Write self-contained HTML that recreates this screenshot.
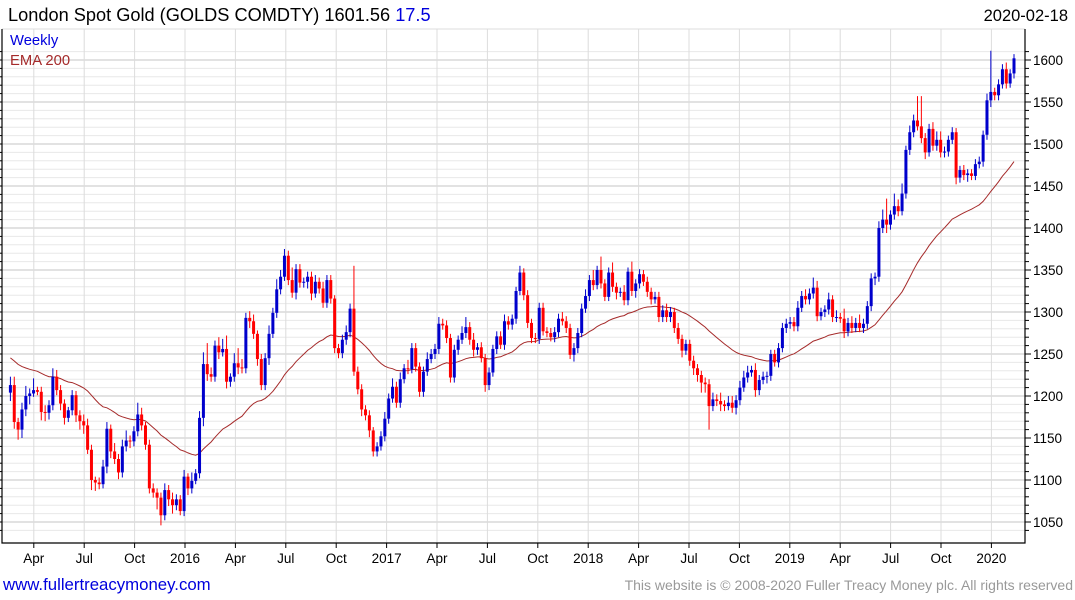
<!DOCTYPE html>
<html><head><meta charset="utf-8"><style>
html,body{margin:0;padding:0;background:#fff;}
svg{display:block;font-family:"Liberation Sans",sans-serif;}
</style></head><body>
<svg id="chart" width="1075" height="600" viewBox="0 0 1075 600">
<text x="8" y="21" font-size="18.2" fill="#000">London Spot Gold (GOLDS COMDTY) 1601.56 <tspan fill="#0000dd">17.5</tspan></text>
<text x="1068" y="21" font-size="16.5" fill="#000" text-anchor="end">2020-02-18</text>
<g id="grid"></g>
<g id="ema"></g>
<g id="candles"></g>
<g id="axes"></g>
<text x="10" y="45" font-size="14.8" fill="#0000dd">Weekly</text>
<text x="10" y="65" font-size="14.8" fill="#a52a2a">EMA 200</text>
<text x="3" y="590" font-size="16.8" fill="#0000dd">www.fullertreacymoney.com</text>
<text x="1073" y="590" font-size="14" fill="#999" text-anchor="end">This website is © 2008-2020 Fuller Treacy Money plc. All rights reserved</text>
</svg>
<script>
const firstOpen = 1204;
const closes = [
1213,1169,1160,1184,1200,1203,1207,1205,1181,1180,
1189,1223,1207,1191,1174,1183,1201,1177,1170,1165,
1136,1100,1097,1095,1116,1161,1134,1125,1109,1140,
1147,1146,1158,1178,1165,1142,1090,1085,1079,1058,
1088,1077,1070,1077,1063,1104,1090,1099,1108,1174,
1238,1226,1223,1260,1252,1256,1217,1223,1239,1234,
1233,1293,1289,1274,1244,1213,1245,1274,1299,1327,
1342,1367,1338,1323,1351,1335,1336,1342,1322,1336,
1328,1311,1338,1316,1257,1251,1267,1276,1304,1229,
1208,1184,1177,1159,1134,1140,1152,1173,1197,1211,
1192,1220,1233,1232,1257,1235,1205,1229,1244,1250,
1256,1286,1284,1269,1222,1255,1267,1275,1282,1267,
1255,1258,1245,1213,1228,1256,1271,1261,1289,1285,
1292,1325,1347,1320,1287,1269,1268,1305,1277,1275,
1270,1276,1292,1289,1281,1249,1257,1275,1304,1319,
1338,1332,1350,1334,1318,1347,1330,1323,1324,1314,
1348,1325,1334,1345,1336,1324,1315,1318,1294,1302,
1294,1300,1281,1268,1254,1262,1242,1233,1225,1216,
1214,1188,1196,1194,1190,1188,1192,1186,1195,1210,
1222,1228,1231,1207,1219,1223,1224,1250,1240,1257,
1281,1286,1288,1283,1305,1319,1315,1322,1329,1295,
1300,1303,1315,1294,1294,1292,1277,1287,1281,1287,
1281,1286,1307,1340,1342,1400,1410,1404,1416,1426,
1420,1441,1493,1514,1528,1521,1507,1490,1518,1498,
1505,1490,1491,1505,1514,1460,1469,1463,1465,1462,
1476,1479,1511,1552,1562,1558,1571,1589,1572,1584,1602];
const highWicks = [
10,10,5,8,12,6,14,4,6,8, 6,10,8,6,5,4,6,5,6,8, 8,6,4,6,8,8,5,10,6,8,
12,6,6,14,8,4,6,6,5,6, 8,6,8,6,5,8,4,10,5,8, 14,25,8,6,10,12,16,4,12,18,
10,6,8,8,4,6,6,10,6,12, 8,8,6,15,6,6,5,6,6,8, 5,8,6,6,4,5,6,8,6,51,
6,6,5,6,4,5,6,8,6,10, 6,8,5,10,6,6,5,6,8,6, 6,8,6,6,5,6,5,8,12,6,
8,5,6,5,6,5,6,6,8,6, 5,5,8,5,6,5,6,6,6,5, 6,6,6,8,6,5,6,6,6,8,
6,12,5,16,5,6,12,5,5,8, 5,12,5,6,5,6,5,6,6,6, 8,6,5,6,5,5,5,6,5,5,
6,6,8,6,10,5,8,8,6,8, 8,8,5,8,6,6,5,5,5,6, 6,6,6,6,8,6,8,6,12,8,
5,5,8,5,8,5,12,6,8,6, 10,6,6,6,5,8,12,25,5,15, 8,12,5,8,7,29,36,6,6,8,
10,10,6,5,6,5,5,6,5,5, 6,6,5,8,49,5,6,6,8,5,5];
const lowWicks = [
10,8,12,10,8,10,4,4,10,10, 8,6,6,8,8,5,6,8,10,10, 5,12,10,6,5,8,8,6,8,6,
6,8,6,6,6,6,6,6,14,12, 6,8,10,6,5,6,8,6,4,6, 10,8,6,6,8,5,8,6,6,8,
6,6,8,6,8,6,6,8,5,6, 6,5,6,6,8,6,6,8,8,5, 6,6,6,6,6,6,6,6,6,5,
6,8,6,8,6,6,5,6,6,5, 6,6,5,6,5,6,6,6,5,5, 6,6,5,6,6,6,6,5,6,6,
8,6,5,8,6,5,6,5,6,6, 6,6,5,6,6,6,5,6,5,5, 5,6,6,5,6,5,8,6,5,5,
6,6,5,6,5,5,6,8,5,6, 6,6,8,6,5,6,6,5,6,6, 6,6,6,6,8,5,6,8,8,12,
10,28,6,6,8,6,5,6,8,6, 5,6,5,8,6,5,8,6,5,6, 5,6,6,6,6,5,6,6,6,6,
5,6,6,6,6,5,8,6,6,5, 5,6,6,6,8,6,6,10,6,6, 6,5,6,6,6,5,6,8,5,6,
6,6,6,6,5,8,6,6,8,5, 5,5,6,6,8,6,6,5,6,5,6];
const emaSeed = 1247;
const emaPeriod = 40;
const priceTicks = [1050,1100,1150,1200,1250,1300,1350,1400,1450,1500,1550,1600];
const timeLabels = ["Apr","Jul","Oct","2016","Apr","Jul","Oct","2017","Apr","Jul","Oct","2018","Apr","Jul","Oct","2019","Apr","Jul","Oct","2020"];
const timeLabelYears = [2015.25,2015.5,2015.75,2016,2016.25,2016.5,2016.75,2017,2017.25,2017.5,2017.75,2018,2018.25,2018.5,2018.75,2019,2019.25,2019.5,2019.75,2020];

const NS = "http://www.w3.org/2000/svg";
const L = 2, R = 1025, T = 29, B = 543;
function yScale(v){ return 60 + (1600 - v) * 0.84; }
const lastX = 1014, step = 3.86;
function xIdx(i){ return lastX - (closes.length - 1 - i) * step; }
function xYear(y){ return 185 + (y - 2016) * 201.6; }
function mk(tag, attrs, parent){
  const e = document.createElementNS(NS, tag);
  for (const k in attrs) e.setAttribute(k, attrs[k]);
  parent.appendChild(e); return e;
}
const grid = document.getElementById('grid');
const axes = document.getElementById('axes');
const candles = document.getElementById('candles');
const emaG = document.getElementById('ema');

for (let v = 1040; v <= 1610; v += 10) {
  const y = yScale(v);
  if (y < T || y > B) continue;
  const major = v % 50 === 0;
  const ln = mk('line', {x1:L, x2:R, y1:y, y2:y, stroke: major ? '#c4c4c4' : '#e8e8e8', 'stroke-width':1}, grid);
  
  
  const tk = mk('line', {x1:R, x2:R+(major?6:4), y1:y, y2:y, stroke:'#000'}, axes);
  
  
  const tl = mk('line', {x1:0, x2:L, y1:y, y2:y, stroke:'#000'}, axes);
  
  
}
priceTicks.forEach(v => {
  const t = mk('text', {x:R+8, y:yScale(v)+5, 'font-size':13.5, fill:'#000'}, axes);
  t.textContent = v;
  
  
});
timeLabels.forEach((lab, i) => {
  const x = xYear(timeLabelYears[i]);
  const g = mk('line', {x1:x, x2:x, y1:T, y2:B, stroke:'#dcdcdc'}, grid);
  
  
  const tk = mk('line', {x1:x, x2:x, y1:B, y2:B+5, stroke:'#000'}, axes);
  
  
  const t = mk('text', {x:x, y:563, 'font-size':13.5, fill:'#000', 'text-anchor':'middle'}, axes);
  t.textContent = lab;
  
  
});
const frame = mk('path', {d:`M${L},${T} V${B} H${R} V${T}`, fill:'none', stroke:'#000', 'stroke-width':1.2}, axes);


const topLine = mk('line', {x1:L, x2:R, y1:T, y2:T, stroke:'#ddd'}, grid);



let ema = emaSeed; const a = 2 / (emaPeriod + 1); let pts = [];
closes.forEach((c, i) => { ema = ema + a * (c - ema); pts.push(xIdx(i).toFixed(1) + ',' + yScale(ema).toFixed(1)); });
const pl = mk('polyline', {points: pts.join(' '), fill:'none', stroke:'#a52a2a', 'stroke-width':1}, emaG);



closes.forEach((c, i) => {
  const o = i === 0 ? firstOpen : closes[i-1];
  const up = c >= o;
  const col = up ? '#0000cc' : '#ff0000';
  const x = xIdx(i);
  const hi = Math.max(o, c) + highWicks[i];
  const lo = Math.min(o, c) - lowWicks[i];
  const g = mk('g', {}, candles);
  
  
  mk('line', {x1:x, x2:x, y1:yScale(hi), y2:yScale(lo), stroke:col, 'stroke-width':1}, g);
  const yt = yScale(Math.max(o, c)), yb = yScale(Math.min(o, c));
  mk('rect', {x:x-1.5, y:yt, width:3, height:Math.max(1, yb-yt), fill:col}, g);
});
</script>
</body></html>
